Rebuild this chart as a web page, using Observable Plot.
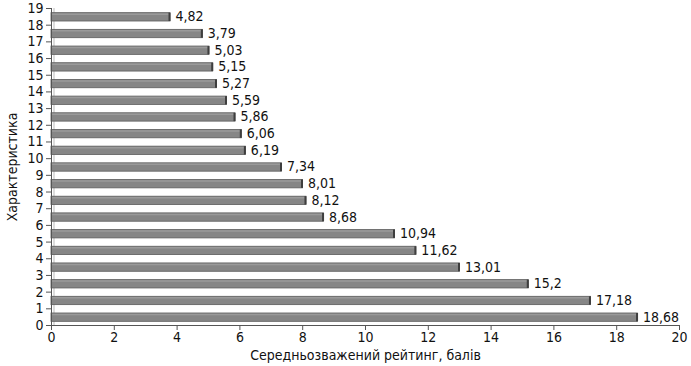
<!DOCTYPE html>
<html>
<head>
<meta charset="utf-8">
<script src="https://cdn.jsdelivr.net/npm/d3@7"></script>
<script src="https://cdn.jsdelivr.net/npm/@observablehq/plot@0.6"></script>
<style>
  html, body { margin: 0; padding: 0; background: #fff; }
  #chart { width: 691px; height: 366px; }
</style>
</head>
<body>
<div id="chart"></div>
<script>
// Row positions on the y axis (bottom to top)
const rows = [0, 1, 2, 3, 4, 5, 6, 7, 8, 9, 10, 11, 12, 13, 14, 15, 16, 17, 18];
// Bar lengths as drawn in the picture
const barValues = [18.68, 17.18, 15.2, 13.01, 11.62, 10.94, 8.68, 8.12, 8.01, 7.34, 6.19, 6.06, 5.86, 5.59, 5.27, 5.15, 5.03, 4.82, 3.79];
// Value labels as printed next to the bars
const barLabels = ["18,68", "17,18", "15,2", "13,01", "11,62", "10,94", "8,68", "8,12", "8,01", "7,34", "6,19", "6,06", "5,86", "5,59", "5,27", "5,15", "5,03", "3,79", "4,82"];
const xTicks = [0, 2, 4, 6, 8, 10, 12, 14, 16, 18, 20];
const yTicks = [0, 1, 2, 3, 4, 5, 6, 7, 8, 9, 10, 11, 12, 13, 14, 15, 16, 17, 18, 19];
const xTitle = "Середньозважений рейтинг, балів";
const yTitle = "Характеристика";

const data = rows.map((r, i) => ({row: r, value: barValues[i], label: barLabels[i]}));

const font = "'Liberation Sans Narrow', 'DejaVu Sans Condensed', 'Roboto Condensed', 'Liberation Sans', sans-serif";

const chart = Plot.plot({
  width: 691,
  height: 366,
  marginLeft: 51,
  marginRight: 12,
  marginTop: 8,
  marginBottom: 41,
  style: {fontFamily: font, fontSize: "14px", color: "#111", background: "#fff"},
  x: {domain: [0, 20]},
  y: {domain: [0, 19]},
  marks: [
    Plot.ruleX([0], {dx: 2.5, stroke: "#bbb", strokeWidth: 1}),
    Plot.rectX(data, {
      x1: 0, x2: "value",
      y1: d => d.row + 0.22, y2: d => d.row + 0.72,
      fill: "#868686", stroke: "#5c5c5c", strokeWidth: 0.8
    }),
    Plot.ruleY(data, {
      x1: 0, x2: "value", y: d => d.row + 0.66,
      stroke: "#9a9a9a", strokeWidth: 1.5
    }),
    Plot.ruleX(data, {
      x: "value", dx: -1,
      y1: d => d.row + 0.22, y2: d => d.row + 0.72,
      stroke: "#3e3e3e", strokeWidth: 2
    }),
    Plot.text(data, {
      x: "value", y: d => d.row + 0.5, text: "label",
      dx: 5, textAnchor: "start", fill: "#111", fontSize: 14
    }),
    Plot.ruleX([0], {stroke: "#555", strokeWidth: 1}),
    Plot.ruleY([0], {stroke: "#555", strokeWidth: 1}),
    Plot.axisX({
      ticks: xTicks, tickFormat: d => String(d), tickSize: 5, tickPadding: 2,
      stroke: "#555", fontSize: 14,
      label: xTitle, labelAnchor: "center", labelArrow: "none", labelOffset: 34
    }),
    Plot.axisY({
      ticks: yTicks, tickFormat: d => String(d), tickSize: 5, tickPadding: 3,
      stroke: "#555", fontSize: 14,
      label: yTitle, labelAnchor: "center", labelArrow: "none", labelOffset: 44
    })
  ]
});

document.getElementById("chart").appendChild(chart);
</script>
</body>
</html>
